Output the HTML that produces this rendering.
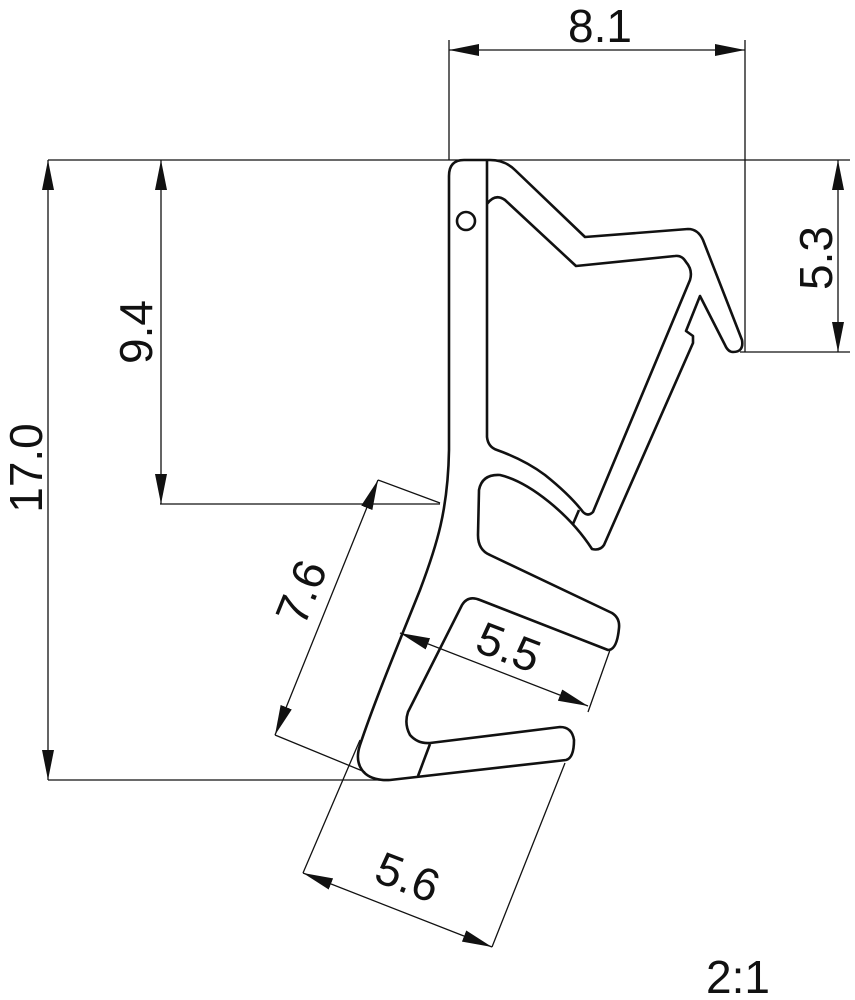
<!DOCTYPE html>
<html><head><meta charset="utf-8"><style>
html,body{margin:0;padding:0;background:#fff;}
svg{display:block;}
text{font-family:"Liberation Sans","DejaVu Sans",sans-serif;font-size:46px;fill:#111;}
</style></head><body>
<svg width="855" height="1000" viewBox="0 0 855 1000" xmlns="http://www.w3.org/2000/svg">
<defs>
<marker id="a" viewBox="0 0 30 12" refX="30" refY="6" markerWidth="30" markerHeight="12" markerUnits="userSpaceOnUse" orient="auto-start-reverse">
<path d="M0,0 L30,6 L0,12 Z" fill="#111"/>
</marker>
</defs>
<g stroke="#111" stroke-width="1.3" fill="none">
<!-- extension lines -->
<line x1="48" y1="160" x2="850" y2="160"/>
<line x1="449" y1="40" x2="449" y2="160"/>
<line x1="745" y1="40" x2="745" y2="352"/>
<line x1="740" y1="352" x2="850" y2="352"/>
<line x1="48" y1="780" x2="390" y2="780"/>
<line x1="160" y1="504" x2="440" y2="504"/>
<line x1="378" y1="480" x2="440" y2="503"/>
<line x1="275" y1="735" x2="365" y2="772"/>
<line x1="610" y1="650" x2="588" y2="712"/>
<line x1="303" y1="873" x2="360" y2="740"/>
<line x1="492" y1="947" x2="565" y2="763"/>
<!-- dimension lines -->
<line x1="449" y1="50" x2="745" y2="50" marker-start="url(#a)" marker-end="url(#a)"/>
<line x1="838" y1="160" x2="838" y2="352" marker-start="url(#a)" marker-end="url(#a)"/>
<line x1="48" y1="160" x2="48" y2="780" marker-start="url(#a)" marker-end="url(#a)"/>
<line x1="161" y1="160" x2="161" y2="504" marker-start="url(#a)" marker-end="url(#a)"/>
<line x1="378" y1="480" x2="275" y2="735" marker-start="url(#a)" marker-end="url(#a)"/>
<line x1="400" y1="633" x2="588" y2="706" marker-start="url(#a)" marker-end="url(#a)"/>
<line x1="303" y1="873" x2="492" y2="947" marker-start="url(#a)" marker-end="url(#a)"/>
</g>
<g stroke="#111" stroke-width="2.6" fill="none" stroke-linejoin="round">
<!-- outer contour -->
<path d="M449,176 Q449,160 464,160 L490,160 Q505,160 515,170 L585,237 L688,229 Q698,229 703,240 L742,340 Q744,352 733,352 Q728,352 725,345 L700,296 L686,331 L693,336 L693,343 L604,545 Q600,551 592,549
C570,515 530,482 500,475 Q482,474 479,490 L478,535 Q478,550 490,555 L612,613 Q620,618 619,628 Q617,650 608,650 L480,600 Q468,595 462,605 L408,712 Q404,724 410,735 Q418,744 430,743 L560,727 Q572,727 574,740 Q574,758 566,760 L390,780 Q370,781 362,770 Q355,760 360,745
C375,700 400,640 420,590 C437,545 448,510 449,450 Z"/>
<!-- hollow -->
<path d="M487,160 L487,437 Q488,447 497,450 Q525,460 545,475 Q570,495 583,512 Q588,517 593,512 L690,280 Q693,270 686,262 Q682,255 675,256 L576,266 L505,200 Q495,193 487,204"/>
<line x1="573" y1="524" x2="579" y2="510"/>
<line x1="418" y1="776" x2="430" y2="744"/>
<circle cx="466" cy="221" r="9"/>
</g>
<g>
<text x="600" y="42" text-anchor="middle">8.1</text>
<text transform="translate(832,258) rotate(-90)" text-anchor="middle">5.3</text>
<text transform="translate(42,468) rotate(-90)" text-anchor="middle">17.0</text>
<text transform="translate(152,332) rotate(-90)" text-anchor="middle">9.4</text>
<text transform="translate(316,598) rotate(-68)" text-anchor="middle">7.6</text>
<text transform="translate(503,662) rotate(21)" text-anchor="middle">5.5</text>
<text transform="translate(402,892) rotate(21)" text-anchor="middle">5.6</text>
<text x="738" y="993" text-anchor="middle">2:1</text>
</g>
</svg>
</body></html>
